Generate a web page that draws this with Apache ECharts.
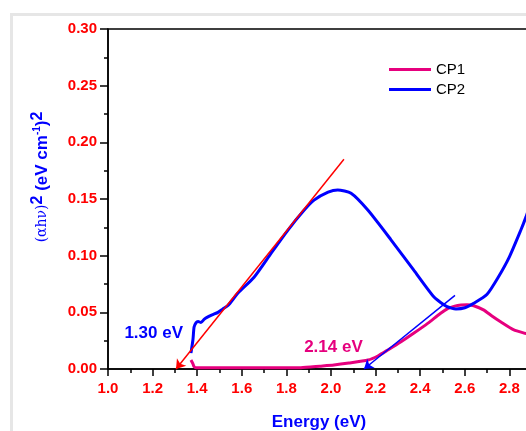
<!DOCTYPE html>
<html lang="en">
<head>
  <meta charset="UTF-8">
  <title>Tauc plot</title>
  <style>
    html, body { margin: 0; padding: 0; background: #fff; overflow: hidden; }
  </style>
</head>
<body>
  <div id="main" style="width: 526px; height: 431px"></div>
  <script src="https://cdn.jsdelivr.net/npm/echarts@6/dist/echarts.min.js"></script>
  <script>
    // CP1 (pink)
    const cp1X = [1.372, 1.380, 1.386, 1.395, 1.417, 1.5, 1.6, 1.7, 1.8, 1.865, 1.95, 2.013, 2.08, 2.166, 2.21, 2.255, 2.314, 2.372, 2.435, 2.49, 2.525, 2.555, 2.583, 2.61, 2.64, 2.686, 2.72, 2.762, 2.82, 2.879, 2.92]
    const cp1Y = [0.008, 0.005, 0.002, 0.001, 0.001, 0.001, 0.001, 0.001, 0.001, 0.0012, 0.0025, 0.0035, 0.0052, 0.0079, 0.0115, 0.0168, 0.024, 0.0317, 0.0405, 0.049, 0.0535, 0.0555, 0.0564, 0.0566, 0.0558, 0.052, 0.047, 0.0415, 0.0345, 0.031, 0.028]

    // CP2 (blue)
    const cp2X = [1.372, 1.381, 1.386, 1.395, 1.404, 1.417, 1.432, 1.448, 1.47, 1.493, 1.515, 1.538, 1.583, 1.655, 1.731, 1.807, 1.879, 1.924, 1.987, 2.03, 2.09, 2.166, 2.269, 2.372, 2.462, 2.52, 2.56, 2.60, 2.64, 2.70, 2.75, 2.80, 2.85, 2.874, 2.92]
    const cp2Y = [0.014, 0.026, 0.037, 0.041, 0.042, 0.041, 0.044, 0.046, 0.048, 0.050, 0.053, 0.056, 0.067, 0.081, 0.102, 0.1226, 0.140, 0.149, 0.156, 0.158, 0.155, 0.140, 0.114, 0.087, 0.0635, 0.055, 0.053, 0.054, 0.058, 0.066, 0.081, 0.099, 0.122, 0.134, 0.16]

    // tangent lines [x, y], the arrow sits on the second point
    const cp2Tangent = [[2.058, 0.185], [1.305, 0]]
    const cp1Tangent = [[2.556, 0.065], [2.148, 0]]

    // band gap labels
    const gapLabels = [
      { text: '1.30 eV', x: 1.205, y: 0.0317, color: '#0000ff' },
      { text: '2.14 eV', x: 2.011, y: 0.0194, color: '#e6007e' }
    ]

    const pink = '#e6007e'
    const blue = '#0000ff'
    const red = '#ff0000'

    function pairs(xs, ys) {
      return xs.map((x, i) => [x, ys[i]])
    }

    const myChart = echarts.init(document.getElementById('main'))

    const option = {
      animation: false,
      backgroundColor: '#fff',
      textStyle: { fontFamily: 'Liberation Sans, Arial, sans-serif' },
      // light grey frame of the original figure (top and left edges)
      graphic: [
        {
          type: 'line', z: -10, silent: true,
          shape: { x1: 10, y1: 14.5, x2: 530, y2: 14.5 },
          style: { stroke: '#e6e6e6', lineWidth: 3 }
        },
        {
          type: 'line', z: -10, silent: true,
          shape: { x1: 11.5, y1: 13, x2: 11.5, y2: 440 },
          style: { stroke: '#e6e6e6', lineWidth: 3 }
        }
      ],
      grid: {
        left: 108, top: 29, width: 446, height: 340,
        outerBoundsMode: 'none',
        containLabel: false,
        show: true, borderColor: '#000', borderWidth: 1.5, backgroundColor: 'transparent'
      },
      legend: {
        orient: 'vertical',
        left: 384, top: 57,
        icon: 'rect',
        itemWidth: 42, itemHeight: 3, itemGap: 5,
        textStyle: { fontSize: 15, color: '#000' },
        data: ['CP1', 'CP2']
      },
      xAxis: {
        type: 'value',
        min: 1.0, max: 3.0, interval: 0.2,
        name: 'Energy (eV)',
        nameLocation: 'middle',
        nameGap: 45,
        nameTextStyle: { color: blue, fontSize: 17, fontWeight: 'bold', padding: [0, 24, 0, 0] },
        axisLine: { lineStyle: { color: '#000', width: 1.5 } },
        axisTick: { length: 7, lineStyle: { color: '#000', width: 1.5 } },
        minorTick: { show: true, splitNumber: 2, length: 4, lineStyle: { color: '#000', width: 1.5 } },
        axisLabel: {
          color: red, fontSize: 15, fontWeight: 'bold', margin: 12,
          formatter: v => v.toFixed(1)
        },
        splitLine: { show: false }
      },
      yAxis: {
        type: 'value',
        min: 0, max: 0.30, interval: 0.05,
        name: '{a|(αhν)}{s|2}{b| (eV cm}{t|-1}{b|)}{s|2}',
        nameLocation: 'middle',
        nameRotate: 90,
        nameGap: 53,
        nameTextStyle: {
          padding: [0, 0, 0, 44],
          rich: {
            a: { color: blue, fontSize: 14, fontFamily: 'DejaVu Serif' },
            b: { color: blue, fontSize: 17, fontWeight: 'bold' },
            s: { color: blue, fontSize: 16, fontWeight: 'bold', padding: [0, 0, 9, 0] },
            t: { color: blue, fontSize: 10, fontWeight: 'bold', padding: [0, 0, 10, 0] }
          }
        },
        axisLine: { lineStyle: { color: '#000', width: 1.5 } },
        axisTick: { length: 8, lineStyle: { color: '#000', width: 1.5 } },
        minorTick: { show: true, splitNumber: 2, length: 4, lineStyle: { color: '#000', width: 1.5 } },
        axisLabel: {
          color: red, fontSize: 15, fontWeight: 'bold', margin: 11,
          formatter: v => v.toFixed(2)
        },
        splitLine: { show: false }
      },
      series: [
        {
          name: 'CP1',
          type: 'line',
          data: pairs(cp1X, cp1Y),
          symbol: 'none',
          smooth: 0.2,
          color: pink,
          lineStyle: { color: pink, width: 3 },
          markPoint: {
            symbol: 'circle',
            symbolSize: 1,
            itemStyle: { color: 'rgba(0,0,0,0)' },
            data: gapLabels.map(g => ({
              coord: [g.x, g.y],
              label: {
                show: true, position: 'inside', formatter: g.text,
                color: g.color, fontSize: 17, fontWeight: 'bold'
              }
            }))
          },
          markLine: {
            silent: true,
            symbol: ['none', 'arrow'],
            symbolSize: 9,
            label: { show: false },
            lineStyle: { color: blue, width: 1.5, type: 'solid' },
            data: [[{ coord: cp1Tangent[0] }, { coord: cp1Tangent[1] }]]
          }
        },
        {
          name: 'CP2',
          type: 'line',
          data: pairs(cp2X, cp2Y),
          symbol: 'none',
          smooth: 0.2,
          color: blue,
          lineStyle: { color: blue, width: 3 },
          markLine: {
            silent: true,
            symbol: ['none', 'arrow'],
            symbolSize: 9,
            label: { show: false },
            lineStyle: { color: red, width: 1.5, type: 'solid' },
            data: [[{ coord: cp2Tangent[0] }, { coord: cp2Tangent[1] }]]
          }
        }
      ]
    }

    myChart.setOption(option)
  </script>
</body>
</html>
